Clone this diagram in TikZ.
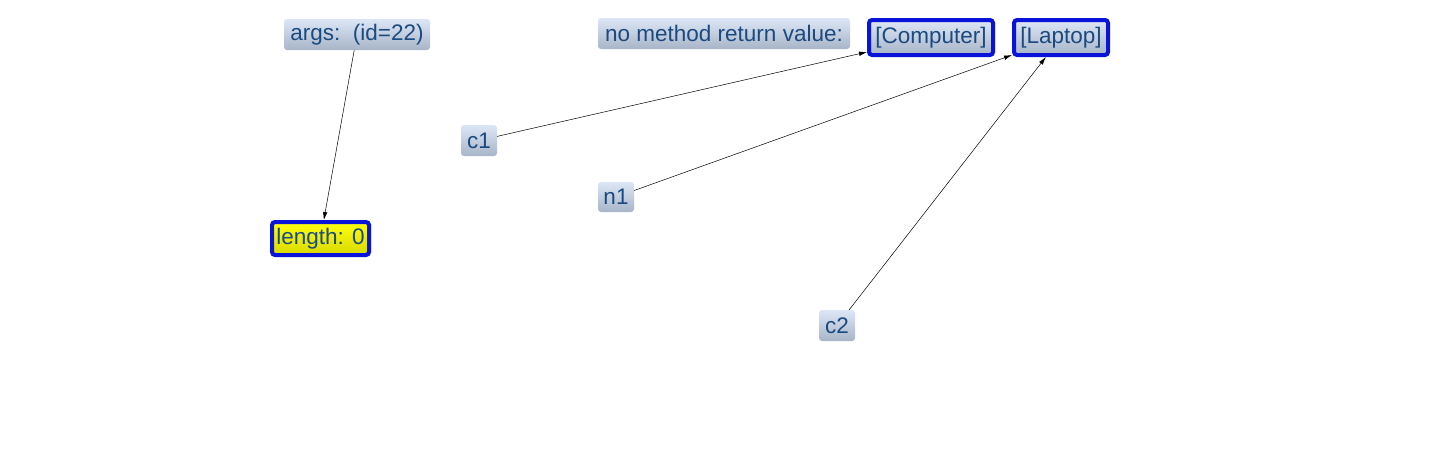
\documentclass[tikz,border=0pt]{standalone}
\usepackage{fontspec}
\setmainfont{Liberation Sans}
\usetikzlibrary{arrows.meta}
\definecolor{txt}{HTML}{1A4A80}
\definecolor{gtop}{HTML}{DCE6F6}
\definecolor{gbot}{HTML}{A8B5C8}
\definecolor{bord}{HTML}{0A14D8}
\definecolor{ytop}{HTML}{FFFF10}
\definecolor{ybot}{HTML}{D8D800}
\tikzset{
  lbl/.style={rounded corners=3pt, top color=gtop, bottom color=gbot, draw=none,
    text=txt, inner sep=0pt, font=\fontsize{22.5}{25}\selectfont},
  obj/.style={lbl, draw=bord, line width=4pt},
  yobj/.style={obj, top color=ytop, bottom color=ybot},
  arr/.style={-{Latex[length=8pt,width=4.5pt]}, line width=0.5pt, black}
}
\begin{document}
\begin{tikzpicture}[x=1pt,y=-1pt]
\useasboundingbox (0,0) rectangle (1430,471);
\node[lbl, minimum width=146pt, minimum height=31pt] (args) at (357,34.5) {args:\ \ (id=22)};
\node[yobj, minimum width=97pt, minimum height=33pt] (len) at (320.5,238.5) {length: 0};
\node[lbl, minimum width=252pt, minimum height=31pt] (nomr) at (724,33.5) {no method return value:};
\node[obj, minimum width=124pt, minimum height=35pt] (comp) at (931,37.5) {[Computer]};
\node[obj, minimum width=94pt, minimum height=35pt] (lap) at (1061,37.5) {[Laptop]};
\node[lbl, minimum width=36pt, minimum height=31pt] (c1) at (479,140.5) {c1};
\node[lbl, minimum width=36pt, minimum height=30pt] (n1) at (616,197) {n1};
\node[lbl, minimum width=36pt, minimum height=31pt] (c2) at (837,325.5) {c2};
\draw[arr] (args) -- (len);
\draw[arr] (c1) -- (comp);
\draw[arr] (n1) -- (lap);
\draw[arr] (c2) -- (lap);
\end{tikzpicture}
\end{document}
